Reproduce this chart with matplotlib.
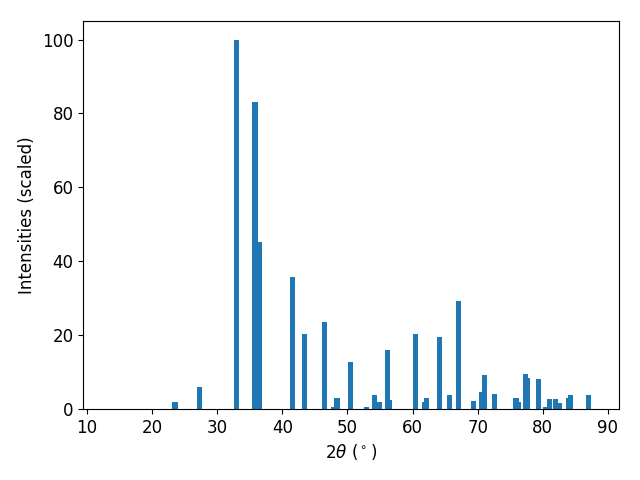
import matplotlib
matplotlib.use('Agg')
import matplotlib.pyplot as plt

plt.rcParams['font.size'] = 12

# Peak positions (2theta, degrees) and scaled intensities
two_theta = [23.5, 27.3, 33.0, 35.8, 36.4, 41.5, 43.4, 46.5, 47.9, 48.4,
             50.5, 52.9, 54.1, 54.9, 56.1, 56.5, 60.5, 61.8, 62.1, 64.1,
             65.7, 67.1, 69.4, 70.6, 71.1, 72.6, 75.9, 76.2, 77.3, 77.7,
             79.3, 80.5, 81.1, 82.0, 82.5, 84.0, 84.3, 87.0]
intensities = [1.9, 6.0, 100.0, 83.2, 45.3, 35.8, 20.3, 23.6, 0.4, 3.0,
               12.7, 0.5, 3.8, 1.9, 16.0, 2.4, 20.3, 1.9, 3.0, 19.5,
               3.8, 29.3, 2.2, 4.6, 9.2, 4.1, 3.0, 1.9, 9.5, 8.4,
               8.1, 0.5, 2.7, 2.7, 1.6, 3.0, 3.8, 3.8]

fig, ax = plt.subplots(figsize=(6.4, 4.8), dpi=100)
ax.bar(two_theta, intensities, width=0.8)
ax.set_xlim(9.4, 91.7)
ax.set_xlabel(r'$2\theta$ ($^\circ$)')
ax.set_ylabel('Intensities (scaled)')
fig.subplots_adjust(left=0.13, right=0.967, top=0.956, bottom=0.148)
plt.savefig('out.png')
